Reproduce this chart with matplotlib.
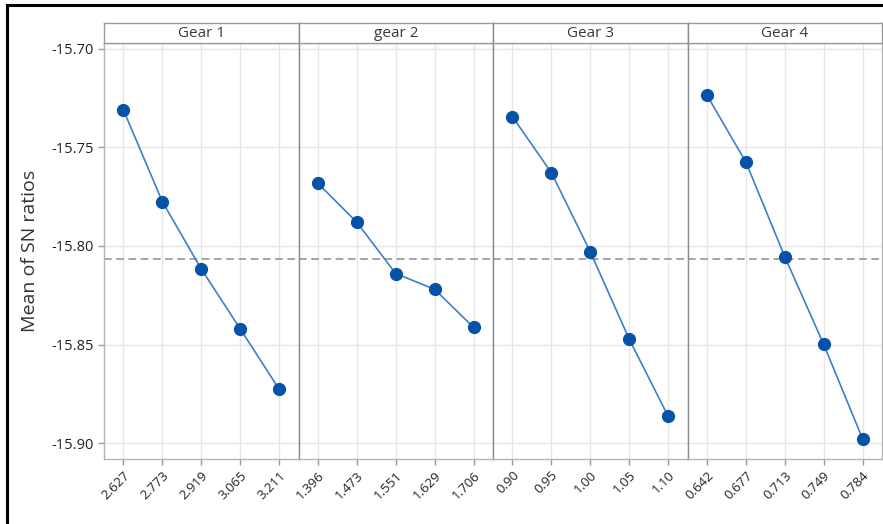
import matplotlib
matplotlib.use('Agg')
import matplotlib.pyplot as plt
from matplotlib.lines import Line2D
import numpy as np

plt.rcParams['font.family'] = ['Open Sans', 'DejaVu Sans']

# data
panels = ['Gear 1', 'gear 2', 'Gear 3', 'Gear 4']
gear1_levels = ['2.627', '2.773', '2.919', '3.065', '3.211']
gear2_levels = ['1.396', '1.473', '1.551', '1.629', '1.706']
gear3_levels = ['0.90', '0.95', '1.00', '1.05', '1.10']
gear4_levels = ['0.642', '0.677', '0.713', '0.749', '0.784']
gear1_sn = [-15.7310, -15.7775, -15.8117, -15.8420, -15.8726]
gear2_sn = [-15.7682, -15.7880, -15.8140, -15.8220, -15.8413]
gear3_sn = [-15.7344, -15.7628, -15.8029, -15.8472, -15.8863]
gear4_sn = [-15.7235, -15.7574, -15.8054, -15.8499, -15.8978]
overall_mean = -15.8067
yticks = [-15.70, -15.75, -15.80, -15.85, -15.90]

levels = [gear1_levels, gear2_levels, gear3_levels, gear4_levels]
values = [gear1_sn, gear2_sn, gear3_sn, gear4_sn]

W, H = 883, 524
fig = plt.figure(figsize=(W / 100, H / 100), dpi=100)

left, right = 104, 882
top, bottom = 43, 459
strip_top = 23
pw = (right - left) / 4

for i in range(4):
    x0 = left + i * pw
    ax = fig.add_axes([x0 / W, 1 - bottom / H, pw / W, (bottom - top) / H])
    x = np.arange(len(levels[i]))
    ax.plot(x, values[i], color='#3d7fcb', lw=1.2, zorder=3)
    ax.plot(x, values[i], 'o', color='#0652a8', ms=8.5, zorder=4)
    ax.axhline(overall_mean, color='#8c8c8c', lw=1.1, ls=(0, (5, 3)), zorder=2)
    ax.set_xlim(-0.5, 4.5)
    ax.set_ylim(-15.9081, -15.6970)
    ax.set_xticks(x)
    ax.set_xticklabels(levels[i], rotation=45, fontsize=9.5, color='#222222',
                       ha='right', va='top', rotation_mode='anchor')
    ax.set_yticks(yticks)
    ax.grid(True, color='#e6e6e6', lw=1)
    ax.set_axisbelow(True)
    for s in ax.spines.values():
        s.set_color('#b4b4b4')
        s.set_linewidth(1)
    if i > 0:
        ax.spines['left'].set_color('#8a8a8a')
        ax.tick_params(axis='y', left=False, labelleft=False)
    else:
        ax.set_yticklabels(['%.2f' % v for v in yticks], fontsize=10.5, color='#222222')
        ax.set_ylabel('Mean of SN ratios', fontsize=14, color='#333333', labelpad=9)
    ax.tick_params(axis='both', color='#9a9a9a', length=4, width=1)
    ax.tick_params(axis='x', pad=3)

    # strip header
    sax = fig.add_axes([x0 / W, 1 - top / H, pw / W, (top - strip_top) / H])
    sax.set_xticks([])
    sax.set_yticks([])
    for s in sax.spines.values():
        s.set_color('#9a9a9a')
        s.set_linewidth(1)
    if i > 0:
        sax.spines['left'].set_color('#8a8a8a')
    sax.text(0.5, 0.45, panels[i], ha='center', va='center', fontsize=11,
             color='#3a3a3a', transform=sax.transAxes)

# outer black frame (left and top edges visible)
fig.add_artist(Line2D([7 / W, 7 / W], [0, 1 - 5 / H], color='black', lw=2.2,
                      transform=fig.transFigure))
fig.add_artist(Line2D([7 / W, 1], [1 - 5 / H, 1 - 5 / H], color='black', lw=2.2,
                      transform=fig.transFigure))

fig.savefig('out.png', dpi=100)
